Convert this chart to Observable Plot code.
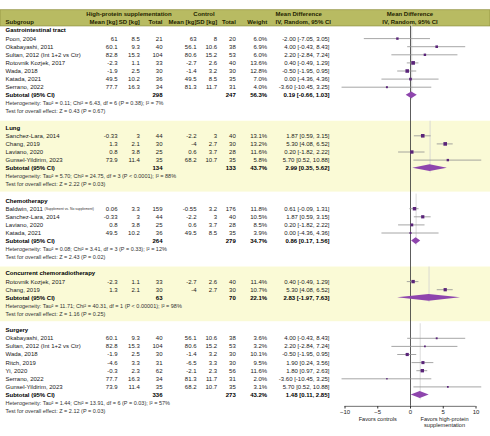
<!DOCTYPE html>
<html>
<head>
<meta charset="utf-8">
<script src="https://cdn.jsdelivr.net/npm/d3@7"></script>
<script src="https://cdn.jsdelivr.net/npm/@observablehq/plot@0.6"></script>
<style>
  body { margin: 0; background: #fff; }
</style>
</head>
<body>
<div id="chart"></div>
<script>
// subgroups and their summary lines
const subgroups = ["Gastrointestinal tract", "Lung", "Chemotherapy", "Concurrent chemoradiotherapy", "Surgery"];
const subExpN = [298, 134, 264, 63, 336];
const subCtrlN = [247, 133, 279, 70, 273];
const subWeight = [56.3, 43.7, 34.7, 22.1, 43.2];
const subMD = [0.19, 2.99, 0.86, 2.83, 1.48];
const subLo = [-0.66, 0.35, 0.17, -1.97, 0.11];
const subHi = [1.03, 5.62, 1.56, 7.63, 2.85];
const subHet = [
  "Tau\u00b2 = 0.11; Chi\u00b2 = 6.43, df = 6 (P = 0.38); I\u00b2 = 7%",
  "Tau\u00b2 = 5.70; Chi\u00b2 = 24.75, df = 3 (P < 0.0001); I\u00b2 = 88%",
  "Tau\u00b2 = 0.08; Chi\u00b2 = 3.41, df = 3 (P = 0.33); I\u00b2 = 12%",
  "Tau\u00b2 = 11.71; Chi\u00b2 = 40.31, df = 1 (P < 0.00001); I\u00b2 = 98%",
  "Tau\u00b2 = 1.44; Chi\u00b2 = 13.91, df = 6 (P = 0.03); I\u00b2 = 57%"
];
const subTest = ["Z = 0.43 (P = 0.67)", "Z = 2.22 (P = 0.03)", "Z = 2.43 (P = 0.02)", "Z = 1.16 (P = 0.25)", "Z = 2.12 (P = 0.03)"];

// studies
const studyGroup = [0,0,0,0,0,0,0, 1,1,1,1, 2,2,2,2, 3,3, 4,4,4,4,4,4,4];
const studyName = [
  "Poon, 2004", "Okabayashi, 2011", "Sultan, 2012 (Int 1+2 vs Ctr)", "Rotovnik Kozjek, 2017", "Wada, 2018", "Katada, 2021", "Serrano, 2022",
  "Sanchez-Lara, 2014", "Chang, 2019", "Laviano, 2020", "Gunsel-Yildirim, 2023",
  "Baldwin, 2011", "Sanchez-Lara, 2014", "Laviano, 2020", "Katada, 2021",
  "Rotovnik Kozjek, 2017", "Chang, 2019",
  "Okabayashi, 2011", "Sultan, 2012 (Int 1+2 vs Ctr)", "Wada, 2018", "Ritch, 2019", "Yi, 2020", "Serrano, 2022", "Gunsel-Yildirim, 2023"
];
const studyNote = ["","","","","","","", "","","","", "(Supplement vs. No supplement)","","","", "","", "","","","","","",""];
const expMean = [61, 60.1, 82.8, -2.3, -1.9, 49.5, 77.7, -0.33, 1.3, 0.8, 73.9, 0.06, -0.33, 0.8, 49.5, -2.3, 1.3, 60.1, 82.8, -1.9, -4.6, -0.3, 77.7, 73.9];
const expSD = [8.5, 9.3, 15.3, 1.1, 2.5, 10.2, 16.3, 3, 2.1, 3.8, 11.4, 3.3, 3, 3.8, 10.2, 1.1, 2.1, 9.3, 15.3, 2.5, 3.3, 2.3, 16.3, 11.4];
const expN = [21, 40, 104, 33, 30, 36, 34, 44, 30, 25, 35, 159, 44, 25, 36, 33, 30, 40, 104, 30, 31, 62, 34, 35];
const ctrlMean = [63, 56.1, 80.6, -2.7, -1.4, 49.5, 81.3, -2.2, -4, 0.6, 68.2, -0.55, -2.2, 0.6, 49.5, -2.7, -4, 56.1, 80.6, -1.4, -6.5, -2.1, 81.3, 68.2];
const ctrlSD = [8, 10.6, 15.2, 2.6, 3.2, 8.5, 11.7, 3, 2.7, 3.7, 10.7, 3.2, 3, 3.7, 8.5, 2.6, 2.7, 10.6, 15.2, 3.2, 3.3, 2.3, 11.7, 10.7];
const ctrlN = [20, 38, 53, 40, 30, 35, 31, 40, 30, 28, 35, 176, 40, 28, 35, 40, 30, 38, 53, 30, 30, 56, 31, 35];
const weight = [6.0, 6.9, 6.0, 13.6, 12.8, 7.0, 4.0, 13.1, 13.2, 11.6, 5.8, 11.8, 10.5, 8.5, 3.9, 11.4, 10.7, 3.6, 3.2, 10.1, 9.5, 11.6, 2.0, 3.1];
const md = [-2.00, 4.00, 2.20, 0.40, -0.50, 0.00, -3.60, 1.87, 5.30, 0.20, 5.70, 0.61, 1.87, 0.20, 0.00, 0.40, 5.30, 4.00, 2.20, -0.50, 1.90, 1.80, -3.60, 5.70];
const ciLo = [-7.05, -0.43, -2.84, -0.49, -1.95, -4.36, -10.45, 0.59, 4.08, -1.82, 0.52, -0.09, 0.59, -1.82, -4.36, -0.49, 4.08, -0.43, -2.84, -1.95, 0.24, 0.97, -10.45, 0.52];
const ciHi = [3.05, 8.43, 7.24, 1.29, 0.95, 4.36, 3.25, 3.15, 6.52, 2.22, 10.88, 1.31, 3.15, 2.22, 4.36, 1.29, 6.52, 8.43, 7.24, 0.95, 3.56, 2.63, 3.25, 10.88];

const xTicks = [-10, -5, 0, 5, 10];

// lay rows out one after another: title, studies, subtotal, heterogeneity, test, blank
const studies = [];
const subs = [];
let r = 0;
subgroups.forEach((g, gi) => {
  const top = r++;
  studyGroup.forEach((sg, i) => {
    if (sg === gi) studies.push({
      r: r++, name: studyName[i], note: studyNote[i],
      eM: expMean[i], eSD: expSD[i], eN: expN[i], cM: ctrlMean[i], cSD: ctrlSD[i], cN: ctrlN[i],
      w: weight[i], md: md[i], lo: ciLo[i], hi: ciHi[i]
    });
  });
  subs.push({
    g, gi, top, sub: r, het: r + 1, test: r + 2,
    eN: subExpN[gi], cN: subCtrlN[gi], w: subWeight[gi], md: subMD[gi], lo: subLo[gi], hi: subHi[gi]
  });
  r += 4;
});
const lastRow = r - 2;
const axisRow = lastRow - 0.6;

const fmtCI = d => `${d.md.toFixed(2)} [${d.lo.toFixed(2)}, ${d.hi.toFixed(2)}]`;
const fmtW = d => `${d.w.toFixed(1)}%`;

const diamonds = subs.flatMap(d => [
  {g: d.g, x: d.lo, y1: d.sub, y2: d.sub},
  {g: d.g, x: d.md, y1: d.sub - 0.42, y2: d.sub + 0.42},
  {g: d.g, x: d.hi, y1: d.sub, y2: d.sub}
]);

const bands = subs.filter(d => d.gi % 2 === 1);

// columns of the table (right edge in px)
const cols = [
  {x: 117, text: d => String(d.eM)},
  {x: 139.3, text: d => String(d.eSD)},
  {x: 162, text: d => String(d.eN)},
  {x: 196, text: d => String(d.cM)},
  {x: 216.7, text: d => String(d.cSD)},
  {x: 235.3, text: d => String(d.cN)},
  {x: 266.7, text: fmtW},
  {x: 329, text: fmtCI}
];

const header1 = [
  {label: "High-protein supplementation", x: 128.5, anchor: "middle"},
  {label: "Control", x: 203.5, anchor: "middle"},
  {label: "Mean Difference", x: 275, anchor: "start"},
  {label: "Mean Difference", x: 409.5, anchor: "middle"}
];
const header2 = [
  {label: "Subgroup", x: 5, anchor: "start"},
  {label: "Mean [kg]", x: 117, anchor: "end"},
  {label: "SD [kg]", x: 139.3, anchor: "end"},
  {label: "Total", x: 162, anchor: "end"},
  {label: "Mean [kg]", x: 196, anchor: "end"},
  {label: "SD [kg]", x: 216.7, anchor: "end"},
  {label: "Total", x: 235.3, anchor: "end"},
  {label: "Weight", x: 266.7, anchor: "end"},
  {label: "IV, Random, 95% CI", x: 275, anchor: "start"},
  {label: "IV, Random, 95% CI", x: 409.5, anchor: "middle"}
];

const txt = "#1a1a1a";
const cellMarks = [];
cols.forEach(c => {
  cellMarks.push(Plot.text(studies, {y: "r", text: c.text, frameAnchor: "left", dx: c.x, textAnchor: "end", fill: txt}));
});
cols.slice(2).forEach((c, k) => {
  if (k === 1 || k === 2) return; // control mean/sd have no subtotal
  cellMarks.push(Plot.text(subs, {y: "sub", text: c.text, frameAnchor: "left", dx: c.x, textAnchor: "end", fontWeight: "bold", fill: "#000"}));
});
header1.forEach(h => {
  cellMarks.push(Plot.text([h], {y: () => -2, text: "label", frameAnchor: "left", dx: h.x, textAnchor: h.anchor, fontWeight: "bold", fill: "#1f1f00"}));
});
header2.forEach(h => {
  cellMarks.push(Plot.text([h], {y: () => -1, text: "label", frameAnchor: "left", dx: h.x, textAnchor: h.anchor, fontWeight: "bold", fill: "#1f1f00"}));
});

const chart = Plot.plot({
  width: 490,
  height: 436,
  marginLeft: 0,
  marginRight: 0,
  marginTop: 0,
  marginBottom: 30,
  style: {fontFamily: "'Liberation Sans', Arial, sans-serif", fontSize: "6px", background: "#fff"},
  x: {domain: [-10, 10], range: [344.5, 475.5], label: null},
  y: {domain: [0, 47], range: [30, 30 + 47 * 8.1], axis: null},
  r: {domain: [0, 14], range: [0, 2.1]},
  marks: [
    // header band and shaded subgroups
    Plot.rect([0], {y1: () => -2.5, y2: () => -0.5, fill: "#b8bb62", stroke: "#8d8f3c", strokeWidth: 0.7}),
    Plot.rect(bands, {y1: d => d.top - 0.8, y2: d => d.test + 0.95, fill: "#fafad6"}),
    // subgroup estimate guides
    Plot.ruleX(subs, {x: "md", y1: d => d.top - 0.8, y2: d => d.sub + 0.6, stroke: "#d2d2d2", strokeWidth: 0.8}),
    // zero line
    Plot.ruleX([0], {y1: () => -0.5, y2: () => axisRow, stroke: "#333", strokeWidth: 0.8}),
    // study CIs and squares
    Plot.ruleY(studies, {y: "r", x1: "lo", x2: "hi", stroke: "#8f8f8f", strokeWidth: 0.8}),
    Plot.dot(studies, {x: "md", y: "r", r: "w", symbol: "square", fill: "#5a2479", stroke: null}),
    // subtotal diamonds
    Plot.areaY(diamonds, {x: "x", y1: "y1", y2: "y2", z: "g", fill: "#8e45ad"}),
    // axis
    Plot.ruleY([axisRow], {x1: -10, x2: 10, stroke: "#333", strokeWidth: 0.7}),
    Plot.axisX({ticks: xTicks, tickSize: 2.5, tickPadding: 0.5, fontSize: 6, stroke: "#333", fill: "#222", label: null}),
    Plot.text(["Favors controls"], {x: () => -5, y: () => lastRow + 1, text: d => d, fill: "#222", fontSize: 5.6}),
    Plot.text(["Favors high-protein\nsupplementation"], {x: () => 5.2, y: () => lastRow + 0.6, text: d => d, lineAnchor: "top", lineHeight: 1.15, fill: "#222", fontSize: 5.6}),
    // left text: titles, studies, summaries
    Plot.text(subs, {y: "top", text: "g", frameAnchor: "left", dx: 5, textAnchor: "start", fontWeight: "bold", fill: "#000"}),
    Plot.text(studies, {y: "r", text: "name", frameAnchor: "left", dx: 5, textAnchor: "start", fill: txt}),
    Plot.text(studies.filter(d => d.note), {y: "r", text: "note", frameAnchor: "left", dx: 44, textAnchor: "start", fill: "#333", fontSize: 3.4}),
    Plot.text(subs, {y: "sub", text: () => "Subtotal (95% CI)", frameAnchor: "left", dx: 5, textAnchor: "start", fontWeight: "bold", fill: "#000"}),
    Plot.text(subs, {y: "het", text: d => "Heterogeneity: " + subHet[d.gi], frameAnchor: "left", dx: 5, textAnchor: "start", fill: "#333", fontSize: 5.5}),
    Plot.text(subs, {y: "test", text: d => "Test for overall effect: " + subTest[d.gi], frameAnchor: "left", dx: 5, textAnchor: "start", fill: "#333", fontSize: 5.5}),
    ...cellMarks
  ]
});

d3.select("#chart").append(() => chart);
</script>
</body>
</html>
